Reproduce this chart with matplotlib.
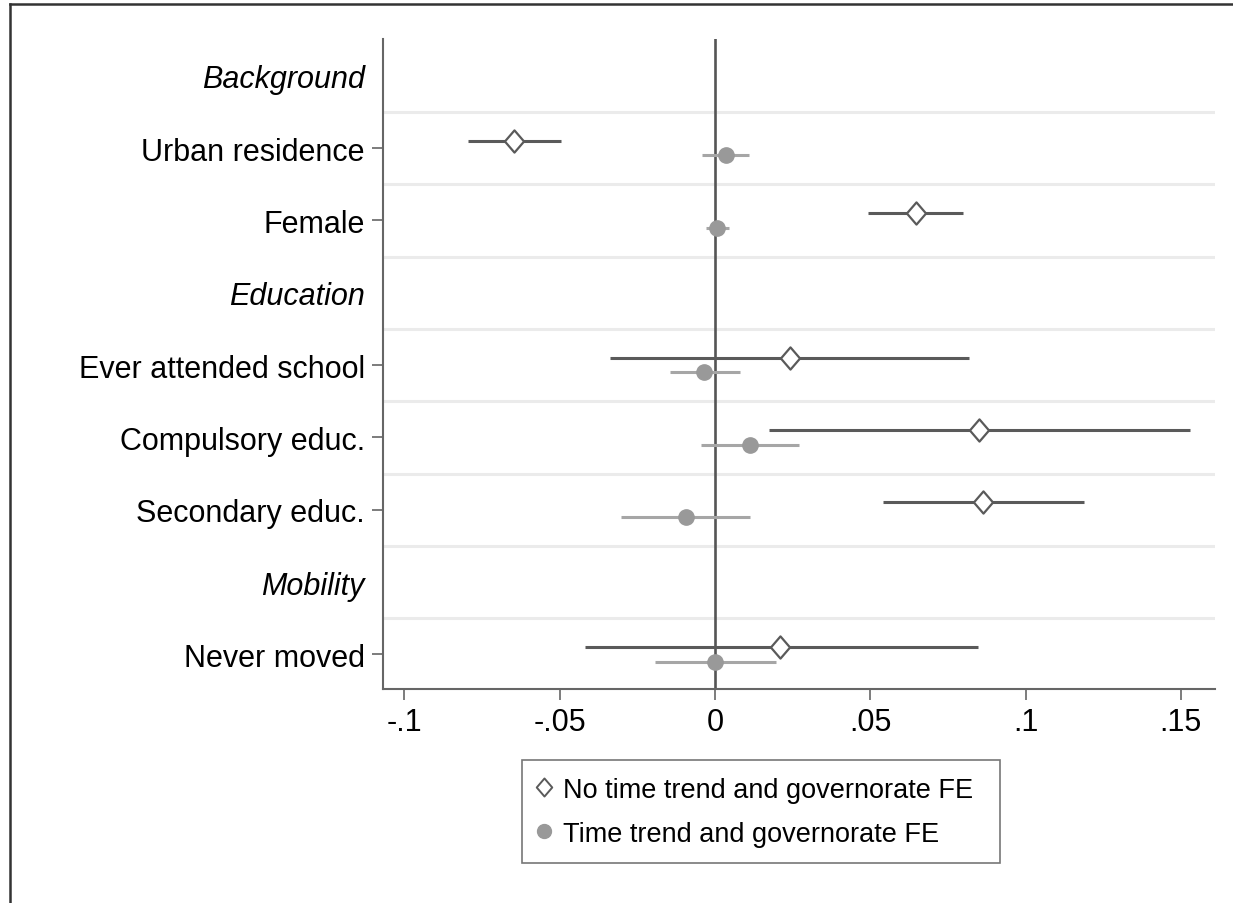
import numpy as np
import matplotlib
matplotlib.use("Agg")
from matplotlib import pyplot as plt
from matplotlib.lines import Line2D
from matplotlib.path import Path

plt.rcParams['font.family'] = ['Liberation Sans', 'DejaVu Sans']

# rows, top to bottom (headers have no estimates)
rows = ['Background', 'Urban residence', 'Female', 'Education', 'Ever attended school',
        'Compulsory educ.', 'Secondary educ.', 'Mobility', 'Never moved']
headers = ['Background', 'Education', 'Mobility']
variables = ['Urban residence', 'Female', 'Ever attended school',
             'Compulsory educ.', 'Secondary educ.', 'Never moved']

# No time trend and governorate FE
est_a = [-0.0647, 0.0647, 0.0241, 0.0850, 0.0864, 0.0210]
lo_a = [-0.0796, 0.0493, -0.0338, 0.0173, 0.0541, -0.0420]
hi_a = [-0.0497, 0.0799, 0.0817, 0.1530, 0.1189, 0.0847]

# Time trend and governorate FE
est_b = [0.0035, 0.0006, -0.0034, 0.0112, -0.0094, 0.0000]
lo_b = [-0.0043, -0.0030, -0.0144, -0.0046, -0.0301, -0.0193]
hi_b = [0.0110, 0.0045, 0.0081, 0.0272, 0.0112, 0.0196]

xticks = [-0.1, -0.05, 0, 0.05, 0.1, 0.15]
xticklabels = ['-.1', '-.05', '0', '.05', '.1', '.15']

dark = '#5a5a5a'
light = '#a6a6a6'
diamond = Path([(0, 1), (0.86, 0), (0, -1), (-0.86, 0), (0, 1)],
               [Path.MOVETO, Path.LINETO, Path.LINETO, Path.LINETO, Path.CLOSEPOLY])

fig = plt.figure(figsize=(12.33, 9.04), dpi=100)
ax = fig.add_axes([0.3106, 0.2367, 0.6748, 0.7191])

ypos = np.arange(1, len(rows) + 1)
yvar = np.array([ypos[rows.index(v)] for v in variables])
off = 0.1

# row separators
for y in ypos[:-1] + 0.5:
    ax.axhline(y, color='#ebebeb', lw=2.2, zorder=0)
ax.axvline(0, color='#555555', lw=1.9, zorder=1)

ax.hlines(yvar - off, lo_a, hi_a, color=dark, lw=2.2, zorder=2)
ax.plot(est_a, yvar - off, linestyle='none', marker=diamond, ms=16,
        mfc='white', mec=dark, mew=1.6, zorder=4)
ax.hlines(yvar + off, lo_b, hi_b, color=light, lw=2.2, zorder=2)
ax.plot(est_b, yvar + off, linestyle='none', marker='o', ms=11,
        mfc='#999999', mec='#999999', zorder=3)

ax.set_xlim(-0.1069, 0.161)
ax.set_ylim(9.48, 0.49)
ax.set_xticks(xticks)
ax.set_xticklabels(xticklabels, fontsize=22)
ax.set_yticks(ypos)
ax.set_yticklabels(rows, fontsize=22)
for t, lab in zip(ax.yaxis.get_major_ticks(), rows):
    if lab in headers:
        t.tick1line.set_visible(False)
        t.label1.set_fontstyle('italic')
ax.tick_params(axis='both', length=8, width=1.2, color='#666666', pad=5)

for s in ['top', 'right']:
    ax.spines[s].set_visible(False)
for s in ['left', 'bottom']:
    ax.spines[s].set_color('#666666')
    ax.spines[s].set_linewidth(1.5)

handles = [
    Line2D([], [], linestyle='none', marker=diamond, ms=13, mfc='white', mec=dark, mew=1.4),
    Line2D([], [], linestyle='none', marker='o', ms=10, mfc='#999999', mec='#999999'),
]
leg = fig.legend(handles, ['No time trend and governorate FE', 'Time trend and governorate FE'],
                 loc='upper left',
                 bbox_to_anchor=(522 / 1233, 1 - 861 / 904, 478 / 1233, 100 / 904),
                 mode='expand', fontsize=19.5, frameon=True, fancybox=False,
                 handlelength=0.4, handletextpad=0.5, borderpad=0.62,
                 labelspacing=0.66, borderaxespad=0)
leg.get_frame().set_edgecolor('#555555')
leg.get_frame().set_linewidth(1.2)

# outer frame (left and top edges visible)
fig.add_artist(Line2D([10 / 1233, 10 / 1233], [0, 1 - 5 / 904], color='#333333', lw=1.8))
fig.add_artist(Line2D([10 / 1233, 1], [1 - 5 / 904, 1 - 5 / 904], color='#333333', lw=1.8))

fig.savefig('out.png', dpi=100)
